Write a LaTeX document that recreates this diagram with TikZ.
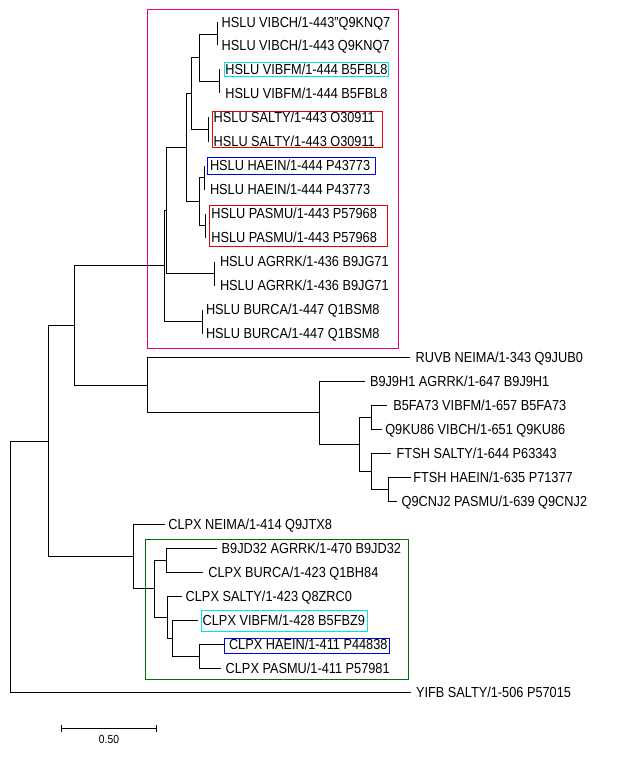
\documentclass[tikz,border=0pt]{standalone}
\usepackage{fontspec}
\setmainfont{Liberation Sans}
\usetikzlibrary{arrows.meta}
\definecolor{pinkc}{RGB}{232,0,128}
\definecolor{cyanc}{RGB}{0,230,230}
\definecolor{redc}{RGB}{235,0,0}
\definecolor{bluec}{RGB}{0,0,235}
\definecolor{greenc}{RGB}{0,112,0}
\tikzset{
  branch/.style={line width=1pt, black},
  leaf/.style={anchor=base west, inner sep=0pt, outer sep=0pt, font=\fontsize{12.75}{14}\selectfont},
  scalelab/.style={anchor=base, inner sep=0pt, font=\fontsize{10.3}{12}\selectfont},
  hbox/.style={line width=1pt},
}
\newcommand{\leafat}[5]{%
  \coordinate (t#1) at (#2,#3);
  \node[leaf] (n#1) at (#4,#3+4.8) {\scalebox{1}[1.14]{#5}};
}
\begin{document}
\begin{tikzpicture}[x=1pt,y=-1pt]
\useasboundingbox (0,0) rectangle (619,757);
% boxes
\draw[hbox, pinkc] (147.5,9.5) rectangle (398.5,348.5);
\draw[hbox, greenc] (145.5,539.5) rectangle (408.5,679.5);
\draw[hbox, cyanc] (224.5,62.5) rectangle (388.5,76.5);
\draw[hbox, redc] (212.5,111.5) rectangle (382.5,147.5);
\draw[hbox, bluec] (207.5,157.5) rectangle (375.5,174.5);
\draw[hbox, redc] (209.5,205.5) rectangle (387.5,246.5);
\draw[hbox, cyanc] (201.5,610.5) rectangle (367.5,631.5);
\draw[hbox, bluec] (224.5,638.5) rectangle (389.5,653.5);
% leaves
\leafat{0}{217.5}{22.5}{221.7}{HSLU VIBCH/1-443"Q9KNQ7}
\leafat{1}{217.5}{45.5}{221.7}{HSLU VIBCH/1-443 Q9KNQ7}
\leafat{2}{219.5}{69.5}{225.3}{HSLU VIBFM/1-444 B5FBL8}
\leafat{3}{219.5}{93.5}{225.3}{HSLU VIBFM/1-444 B5FBL8}
\leafat{4}{208.5}{117.5}{213.7}{HSLU SALTY/1-443 O30911}
\leafat{5}{208.5}{141.5}{213.7}{HSLU SALTY/1-443 O30911}
\leafat{6}{204.5}{165.5}{210}{HSLU HAEIN/1-444 P43773}
\leafat{7}{204.5}{189.5}{210}{HSLU HAEIN/1-444 P43773}
\leafat{8}{205.5}{213.5}{211.3}{HSLU PASMU/1-443 P57968}
\leafat{9}{205.5}{237.5}{211.3}{HSLU PASMU/1-443 P57968}
\leafat{10}{214.5}{261.5}{220}{HSLU AGRRK/1-436 B9JG71}
\leafat{11}{214.5}{285.5}{220}{HSLU AGRRK/1-436 B9JG71}
\leafat{12}{202.5}{309.5}{206}{HSLU BURCA/1-447 Q1BSM8}
\leafat{13}{202.5}{333.5}{206}{HSLU BURCA/1-447 Q1BSM8}
\leafat{14}{409.5}{357.5}{415.7}{RUVB NEIMA/1-343 Q9JUB0}
\leafat{15}{364.5}{381.5}{370}{B9J9H1 AGRRK/1-647 B9J9H1}
\leafat{16}{386.5}{405.5}{393.3}{B5FA73 VIBFM/1-657 B5FA73}
\leafat{17}{381.5}{429.5}{385.3}{Q9KU86 VIBCH/1-651 Q9KU86}
\leafat{18}{390.5}{453.5}{396.7}{FTSH SALTY/1-644 P63343}
\leafat{19}{410.5}{477.5}{413.3}{FTSH HAEIN/1-635 P71377}
\leafat{20}{396.5}{501.5}{401.7}{Q9CNJ2 PASMU/1-639 Q9CNJ2}
\leafat{21}{164.5}{524.5}{168.3}{CLPX NEIMA/1-414 Q9JTX8}
\leafat{22}{216.5}{548.5}{221.7}{B9JD32 AGRRK/1-470 B9JD32}
\leafat{23}{202.5}{572.5}{208.3}{CLPX BURCA/1-423 Q1BH84}
\leafat{24}{181.5}{596.5}{185.7}{CLPX SALTY/1-423 Q8ZRC0}
\leafat{25}{197.5}{620.5}{202.7}{CLPX VIBFM/1-428 B5FBZ9}
\leafat{26}{224.5}{644.5}{229}{CLPX HAEIN/1-411 P44838}
\leafat{27}{220.5}{668.5}{225.7}{CLPX PASMU/1-411 P57981}
\leafat{28}{410.5}{692.5}{416}{YIFB SALTY/1-506 P57015}
% internal nodes
\coordinate (A) at (217.5,34.5);
\coordinate (B) at (219.5,81.5);
\coordinate (C) at (199.5,57.5);
\coordinate (D) at (208.5,129.5);
\coordinate (E) at (191.5,93.5);
\coordinate (F) at (204.5,177.5);
\coordinate (G) at (205.5,225.5);
\coordinate (H) at (199.5,201.5);
\coordinate (I) at (186.5,147.5);
\coordinate (J) at (214.5,273.5);
\coordinate (K) at (166.5,210.5);
\coordinate (L) at (202.5,321.5);
\coordinate (M) at (164.5,265.5);
\coordinate (S) at (388.5,489.5);
\coordinate (R) at (371.5,471.5);
\coordinate (Q) at (371.5,417.5);
\coordinate (P) at (359.5,444.5);
\coordinate (O) at (319.5,412.5);
\coordinate (N) at (147.5,385.5);
\coordinate (T) at (74.5,325.5);
\coordinate (U1) at (199.5,656.5);
\coordinate (U2) at (172.5,638.5);
\coordinate (U3) at (167.5,617.5);
\coordinate (U4) at (166.5,560.5);
\coordinate (U5) at (154.5,588.5);
\coordinate (U6) at (133.5,556.5);
\coordinate (V) at (48.5,441.5);
\coordinate (Root) at (10.5,566.5);
% branches
\draw[branch] (A) |- (t0) (A) |- (t1);
\draw[branch] (B) |- (t2) (B) |- (t3);
\draw[branch] (C) |- (A) (C) |- (B);
\draw[branch] (D) |- (t4) (D) |- (t5);
\draw[branch] (E) |- (C) (E) |- (D);
\draw[branch] (F) |- (t6) (F) |- (t7);
\draw[branch] (G) |- (t8) (G) |- (t9);
\draw[branch] (H) |- (F) (H) |- (G);
\draw[branch] (I) |- (E) (I) |- (H);
\draw[branch] (J) |- (t10) (J) |- (t11);
\draw[branch] (K) |- (I) (K) |- (J);
\draw[branch] (L) |- (t12) (L) |- (t13);
\draw[branch] (M) |- (K) (M) |- (L);
\draw[branch] (S) |- (t19) (S) |- (t20);
\draw[branch] (R) |- (t18) (R) |- (S);
\draw[branch] (Q) |- (t16) (Q) |- (t17);
\draw[branch] (P) |- (Q) (P) |- (R);
\draw[branch] (O) |- (t15) (O) |- (P);
\draw[branch] (N) |- (t14) (N) |- (O);
\draw[branch] (T) |- (M) (T) |- (N);
\draw[branch] (U1) |- (t26) (U1) |- (t27);
\draw[branch] (U2) |- (t25) (U2) |- (U1);
\draw[branch] (U3) |- (t24) (U3) |- (U2);
\draw[branch] (U4) |- (t22) (U4) |- (t23);
\draw[branch] (U5) |- (U4) (U5) |- (U3);
\draw[branch] (U6) |- (t21) (U6) |- (U5);
\draw[branch] (V) |- (T) (V) |- (U6);
\draw[branch] (Root) |- (V) (Root) |- (t28);
% scale bar
\coordinate (sb1) at (60.5,728.5);
\coordinate (sb2) at (156.5,728.5);
\draw[branch, {Bar[width=7pt]}-{Bar[width=7pt]}] (sb1) -- (sb2);
\node[scalelab] (sblab) at (109,743.2) {\scalebox{1}[1.14]{0.50}};
\end{tikzpicture}
\end{document}
